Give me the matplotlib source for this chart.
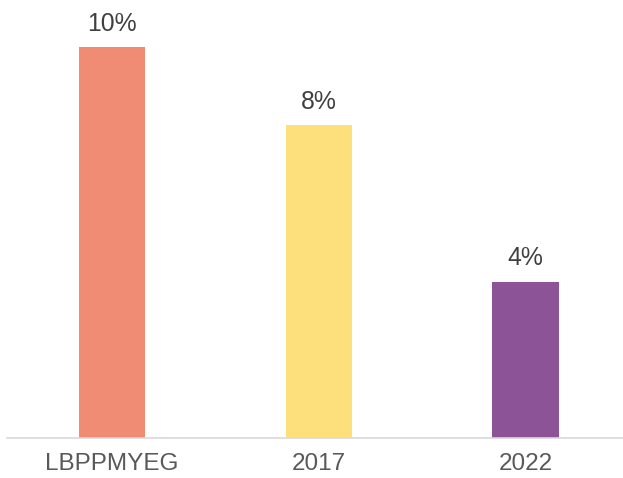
import matplotlib.pyplot as plt

plt.rcParams['font.family'] = ['Liberation Sans', 'DejaVu Sans']

categories = ["LBPPMYEG", "2017", "2022"]
values = [10, 8, 4]
labels = ["10%", "8%", "4%"]
colors = ["#F08C73", "#FDDF7B", "#8C5496"]

fig = plt.figure(figsize=(6.23, 4.78), dpi=100)
ax = fig.add_axes([7 / 623, 40 / 478, 616 / 623, 438 / 478])

x = list(range(len(categories)))
bars = ax.bar(x, values, width=0.32, color=colors)

for b, lab in zip(bars, labels):
    ax.annotate(lab, (b.get_x() + b.get_width() / 2, b.get_height()),
                xytext=(0, 8), textcoords="offset points",
                ha="center", va="bottom", fontsize=17.8, color="#404040")

ax.set_xlim(-0.508, 2.472)
ax.set_ylim(0, 11.2)
ax.set_xticks(x)
ax.set_xticklabels(categories, fontsize=17.5, color="#595959")
ax.tick_params(axis="x", length=0, pad=11)
ax.set_yticks([])
for s in ["top", "right", "left"]:
    ax.spines[s].set_visible(False)
ax.spines["bottom"].set_color("#D9D9D9")
ax.spines["bottom"].set_linewidth(1.2)

fig.savefig("out.png", dpi=100)
